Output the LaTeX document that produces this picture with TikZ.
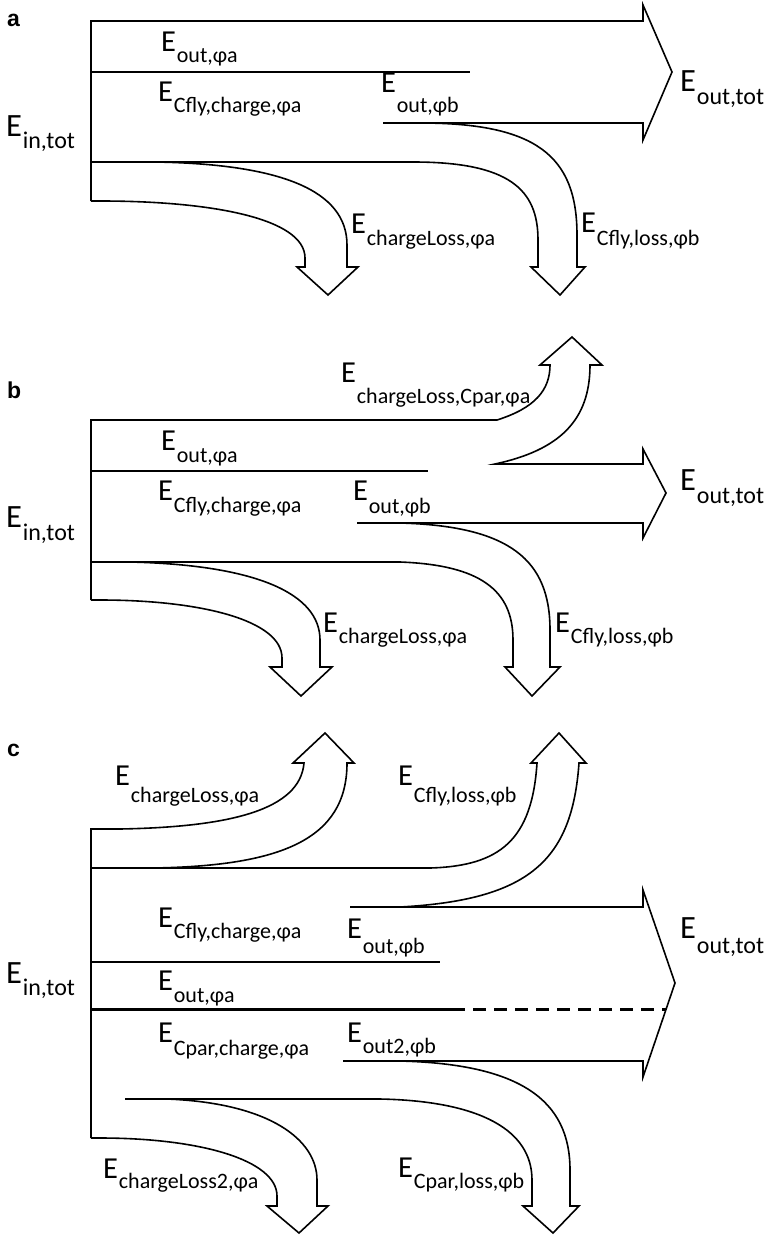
\documentclass[tikz,border=0pt]{standalone}
\usepackage{fontspec}
\setmainfont{Carlito}
\newfontfamily\letterfont{Liberation Sans}
\newcommand\Elab[2][12]{{\fontsize{30.5}{30.5}\selectfont E}\kern1pt\raisebox{-#1pt}{\fontsize{22}{22}\selectfont #2}}
\newcommand\Ebig[2][12]{{\fontsize{32.5}{32.5}\selectfont E}\kern1pt\raisebox{-#1pt}{\fontsize{24}{24}\selectfont #2}}
\begin{document}
\begin{tikzpicture}[x=1pt,y=-1pt]
\tikzset{
  lbl/.style={anchor=base west, inner sep=0pt, outer sep=0pt},
  flow/.style={draw=black, line width=1.6pt, line join=miter},
  thickline/.style={draw=black, line width=3pt},
  panel/.style={anchor=base west, inner sep=0pt, font=\letterfont\bfseries\fontsize{23}{23}\selectfont}
}
\useasboundingbox (0,0) rectangle (774,1236);

% ---------------- panel a ----------------
\node[panel] (pa) at (7,27) {a};
\draw[flow] (91,201) -- (91,21) -- (643,21) -- (643,5) -- (672,72) -- (643,140) -- (643,123) -- (383,123);
\draw[flow] (383,123) -- (420,123) .. controls (535,123) and (577,155) .. (577,235) -- (577,267) -- (585,267) -- (560,295) -- (531,267) -- (538,267) -- (538,240) .. controls (538,190) and (510,162) .. (413,162) -- (91,162);
\draw[flow] (91,72) -- (470,72);
\draw[flow] (155,162) .. controls (280,164) and (347,190) .. (347,245) -- (347,267) -- (358,267) -- (328,295) -- (297,267) -- (305,267) -- (305,258) .. controls (305,218) and (210,201) .. (100,201) -- (91,201);

\node[lbl] (a1) at (161,52) {\Elab[11]{out,φa}};
\node[lbl] (a2) at (158,102) {\Elab[11]{Cfly,charge,φa}};
\node[lbl] (a3) at (6,136) {\Ebig[12]{in,tot}};
\node[lbl] (a4) at (381,93) {\Elab[20]{out,φb}};
\node[lbl] (a5) at (680,92) {\Ebig[13]{out,tot}};
\node[lbl] (a6) at (351,233) {\Elab[12]{chargeLoss,φa}};
\node[lbl] (a7) at (581,232) {\Elab[13]{Cfly,loss,φb}};

% ---------------- panel b ----------------
\node[panel] (pb) at (7,398) {b};
\draw[flow] (91,600) -- (91,420) -- (497,420) .. controls (535,408) and (550,390) .. (550,365) -- (540,365) -- (572,337) -- (602,365) -- (590,365) .. controls (590,420) and (560,450) .. (495,464) -- (643,464) -- (643,449) -- (666,493) -- (643,538) -- (643,523) -- (357,523);
\draw[flow] (357,523) -- (400,523) .. controls (510,526) and (550,560) .. (550,630) -- (550,667) -- (560,667) -- (532,696) -- (505,667) -- (513,667) -- (513,640) .. controls (513,590) and (480,565) .. (400,562) -- (91,562);
\draw[flow] (91,471) -- (428,471);
\draw[flow] (130,562) .. controls (260,565) and (320,595) .. (320,640) -- (320,667) -- (332,667) -- (301,696) -- (270,667) -- (282,667) -- (282,658) .. controls (282,620) and (200,600) .. (100,600) -- (91,600);

\node[lbl] (b0) at (341,382) {\Elab[21]{chargeLoss,Cpar,φa}};
\node[lbl] (b1) at (161,450) {\Elab[12]{out,φa}};
\node[lbl] (b2) at (158,500) {\Elab[12]{Cfly,charge,φa}};
\node[lbl] (b3) at (353,500) {\Elab[13]{out,φb}};
\node[lbl] (b4) at (6,527) {\Ebig[13]{in,tot}};
\node[lbl] (b5) at (680,490) {\Ebig[13]{out,tot}};
\node[lbl] (b6) at (323,632) {\Elab[11]{chargeLoss,φa}};
\node[lbl] (b7) at (555,632) {\Elab[11]{Cfly,loss,φb}};

% ---------------- panel c ----------------
\node[panel] (pc) at (7,756) {c};
\draw[flow] (91,1138) -- (91,829) -- (120,829) .. controls (230,827) and (300,810) .. (304,763) -- (293,763) -- (325,733) -- (354,763) -- (347,763) .. controls (347,840) and (280,866) .. (153,868);
\draw[flow] (91,868) -- (430,868) .. controls (500,866) and (532,840) .. (537,763) -- (531,763) -- (559,733) -- (586,763) -- (579,763) .. controls (572,860) and (530,900) .. (400,907);
\draw[flow] (350,907) -- (643,907) -- (643,890) -- (675,983) -- (643,1077) -- (643,1061) -- (343,1061);
\draw[flow] (91,962) -- (440,962);
\draw[thickline] (91,1009) -- (452,1009);
\draw[thickline, dash pattern=on 13pt off 8pt] (452,1009) -- (666,1009);
\draw[flow] (400,1061) .. controls (520,1064) and (570,1100) .. (570,1170) -- (570,1206) -- (579,1206) -- (553,1233) -- (523,1206) -- (532,1206) -- (532,1180) .. controls (532,1130) and (480,1101) .. (380,1099) -- (125,1099);
\draw[flow] (167,1099) .. controls (270,1103) and (317,1140) .. (317,1180) -- (317,1206) -- (328,1206) -- (299,1233) -- (267,1206) -- (277,1206) -- (277,1196) .. controls (277,1160) and (200,1138) .. (100,1138) -- (91,1138);

\node[lbl] (c1) at (115,785) {\Elab[17]{chargeLoss,φa}};
\node[lbl] (c2) at (398,785) {\Elab[17]{Cfly,loss,φb}};
\node[lbl] (c3) at (158,927) {\Elab[11]{Cfly,charge,φa}};
\node[lbl] (c4) at (347,938) {\Elab[15]{out,φb}};
\node[lbl] (c5) at (158,990) {\Elab[12]{out,φa}};
\node[lbl] (c6) at (6,983) {\Ebig[12]{in,tot}};
\node[lbl] (c7) at (158,1042) {\Elab[13]{Cpar,charge,φa}};
\node[lbl] (c8) at (347,1042) {\Elab[11]{out2,φb}};
\node[lbl] (c9) at (680,938) {\Ebig[15]{out,tot}};
\node[lbl] (c10) at (103,1178) {\Elab[10]{chargeLoss2,φa}};
\node[lbl] (c11) at (398,1177) {\Elab[11]{Cpar,loss,φb}};
\end{tikzpicture}
\end{document}
